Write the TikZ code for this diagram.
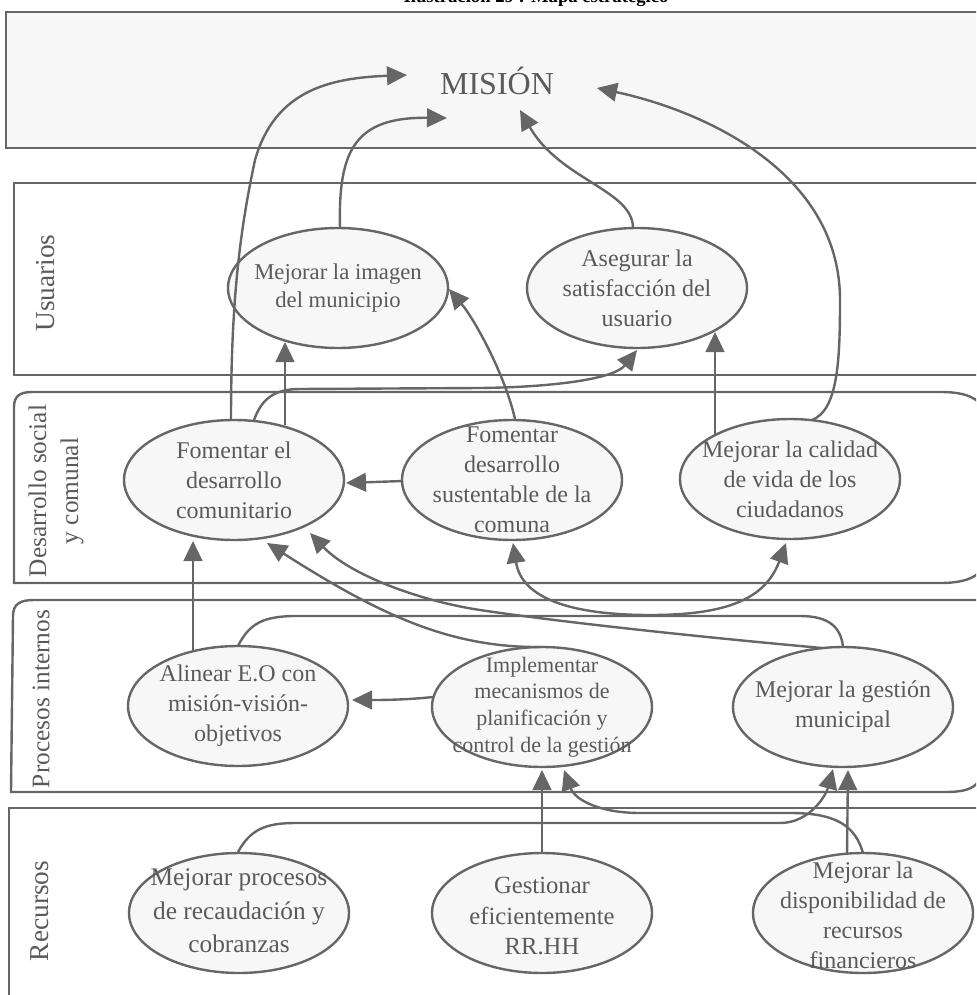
\documentclass[tikz,border=0pt]{standalone}
\usepackage{fontspec}
\setmainfont{Liberation Serif}
\usetikzlibrary{shapes.geometric, arrows.meta, calc}
\definecolor{linec}{HTML}{666666}
\definecolor{textc}{HTML}{5A5A5A}
\definecolor{boxfill}{HTML}{F7F7F7}

\begin{document}
\begin{tikzpicture}[x=0.75pt, y=-0.75pt,
  lane/.style={draw=linec, line width=1.8pt},
  obj/.style={ellipse, draw=linec, fill=boxfill, line width=1.8pt,
    minimum width=165pt, minimum height=90pt, inner sep=0pt},
  txt/.style={text=textc, align=center, inner sep=0pt,
    font=\fontsize{18}{22.5}\selectfont},
  lanelabel/.style={text=textc, align=center, rotate=90, inner sep=0pt,
    font=\fontsize{19}{24}\selectfont},
  link/.style={draw=linec, line width=1.8pt},
  arr/.style={link, -{Triangle[length=15pt, width=14pt]}},
  biarr/.style={link, {Triangle[length=15pt, width=14pt]}-{Triangle[length=15pt, width=14pt]}},
]
\useasboundingbox (0,0) rectangle (976,995);
\clip (0,0) rectangle (976,995);

% ---------- lanes ----------
\draw[lane, fill=boxfill] (6,12) rectangle (1000,148);
\draw[lane] (14,183) rectangle (1000,375);
\draw[lane] (14,583) -- (14,407) .. controls (14,396) and (20,392) .. (32,392)
  -- (940,392) .. controls (975,392) and (990,402) .. (990,440)
  -- (990,540) .. controls (990,572) and (975,583) .. (940,583) -- cycle;
\draw[lane] (11,792) -- (13,616) .. controls (13,604) and (20,600) .. (34,600)
  -- (985,600) -- (985,750) .. controls (985,785) and (975,792) .. (945,792) -- cycle;
\draw[lane] (9,1010) -- (9,808) -- (1000,808);

% ---------- title and lane labels ----------
\node[font=\bfseries\fontsize{14}{16}\selectfont, anchor=base] (titulo) at (536,3)
  {Ilustración 29 : Mapa estratégico};
\node[text=textc, font=\fontsize{24}{28}\selectfont] (mision) at (497,81) {MISIÓN};
\node[lanelabel, font=\fontsize{20.5}{24}\selectfont] (l-usu) at (46,283) {Usuarios};
\node[lanelabel] (l-des) at (56,491) {Desarrollo social\\y comunal};
\node[lanelabel] (l-pro) at (41,699) {Procesos internos};
\node[lanelabel, font=\fontsize{20.5}{24}\selectfont] (l-rec) at (40,911) {Recursos};

% ---------- objectives ----------
\node[obj] (imagen)  at (338,288) {};
\node[obj] (satisf)  at (637,288) {};
\node[obj] (fomcom)  at (234,480) {};
\node[obj] (fomsust) at (512,480) {};
\node[obj] (calidad) at (790,479) {};
\node[obj] (alinear) at (238,706) {};
\node[obj] (implem)  at (542,707) {};
\node[obj] (gestion) at (843,707) {};
\node[obj] (recaud)  at (239,913) {};
\node[obj] (rrhh)    at (542,913) {};
\node[obj] (financ)  at (863,913) {};

% ---------- links ----------
% towards the mission
\draw[arr] ($(fomcom)+(-3,-60)$) .. controls (231,300) and (240,230) .. (255,160)
  .. controls (275,90) and (330,78) .. ($(mision)+(-90,-6)$);
\draw[arr] ($(imagen)+(2,-60)$) .. controls (338,150) and (355,117) .. ($(mision)+(-50,37)$);
\draw[arr] ($(satisf)+(-4,-60)$) .. controls (633,190) and (560,180) .. ($(mision)+(23,29)$);
\draw[arr] ($(calidad)+(22,-59)$) .. controls (838,410) and (840,360) .. (840,300)
  .. controls (840,170) and (700,110) .. ($(mision)+(100,7)$);
% towards the users
\draw[arr] ($(fomcom)+(51,-55)$) -- ($(imagen)+(-53,54)$);
\draw[arr] ($(fomcom)+(20,-60)$) .. controls (262,398) and (275,389) .. (300,389)
  -- (480,388) .. controls (560,387) and (615,378) .. ($(satisf)+(0,62)$);
\draw[arr] ($(fomsust)+(3,-61)$) .. controls (505,375) and (475,320) .. ($(imagen)+(111,1)$);
\draw[arr] ($(calidad)+(-75,-44)$) -- ($(satisf)+(78,44)$);
% inside the social lane
\draw[arr] ($(fomsust)+(-109,1)$) -- ($(fomcom)+(112,3)$);
\draw[biarr] ($(fomsust)+(1,63)$) .. controls (522,600) and (575,615) .. (650,615)
  .. controls (725,615) and (765,600) .. ($(calidad)+(-4,64)$);
% from internal processes
\draw[arr] ($(gestion)+(-21,-59)$) .. controls (700,637) and (560,622) .. (480,610)
  .. controls (420,601) and (350,575) .. ($(fomcom)+(76,53)$);
\draw[arr] ($(implem)+(0,-60)$) .. controls (450,648) and (380,615) .. ($(fomcom)+(33,63)$);
\draw[arr] ($(alinear)+(-45,-55)$) -- ($(fomcom)+(-41,61)$);
\draw[link] ($(alinear)+(0,-60)$) .. controls (250,622) and (265,617) .. (292,616)
  -- (800,616) .. controls (830,616) and (841,628) .. ($(gestion)+(0,-60)$);
\draw[arr] ($(implem)+(-109,-10)$) .. controls (405,700) and (380,700) .. ($(alinear)+(114,-6)$);
% from resources
\draw[arr] ($(rrhh)+(0,-60)$) -- ($(implem)+(0,63)$);
\draw[arr] ($(financ)+(0,-60)$) .. controls (855,825) and (835,813) .. (790,813)
  -- (640,813) .. controls (600,813) and (575,800) .. ($(implem)+(22,63)$);
\draw[arr] ($(financ)+(-16,-59)$) -- ($(gestion)+(5,63)$);
\draw[arr] ($(recaud)+(-1,-61)$) .. controls (250,830) and (265,823) .. (295,823)
  -- (780,823) .. controls (810,823) and (826,795) .. ($(gestion)+(-10,62)$);

% ---------- texts ----------
\node[txt, font=\fontsize{17}{20.5}\selectfont] (imagen-t) at (imagen) {Mejorar la imagen\\del municipio};
\node[txt] (satisf-t)  at (satisf)  {Asegurar la\\satisfacción del\\usuario};
\node[txt] (fomcom-t)  at (fomcom)  {Fomentar el\\desarrollo\\comunitario};
\node[txt] (fomsust-t) at (fomsust) {Fomentar\\desarrollo\\sustentable de la\\comuna};
\node[txt] (calidad-t) at (calidad) {Mejorar la calidad\\de vida de los\\ciudadanos};
\node[txt] (alinear-t) at (alinear) {Alinear E.O con\\misión-visión-\\objetivos};
\node[txt, font=\fontsize{16.5}{20}\selectfont] (implem-t) at (implem) {Implementar\\mecanismos de\\planificación y\\control de la gestión};
\node[txt] (gestion-t) at (gestion) {Mejorar la gestión\\municipal};
\node[txt, font=\fontsize{19}{25}\selectfont] (recaud-t) at ($(recaud)+(0,-2)$) {Mejorar procesos\\de recaudación y\\cobranzas};
\node[txt, font=\fontsize{18.5}{23}\selectfont] (rrhh-t) at ($(rrhh)+(0,3)$) {Gestionar\\eficientemente\\RR.HH};
\node[txt] (financ-t)  at ($(financ)+(0,2)$)  {Mejorar la\\disponibilidad de\\recursos\\financieros};
\end{tikzpicture}
\end{document}
